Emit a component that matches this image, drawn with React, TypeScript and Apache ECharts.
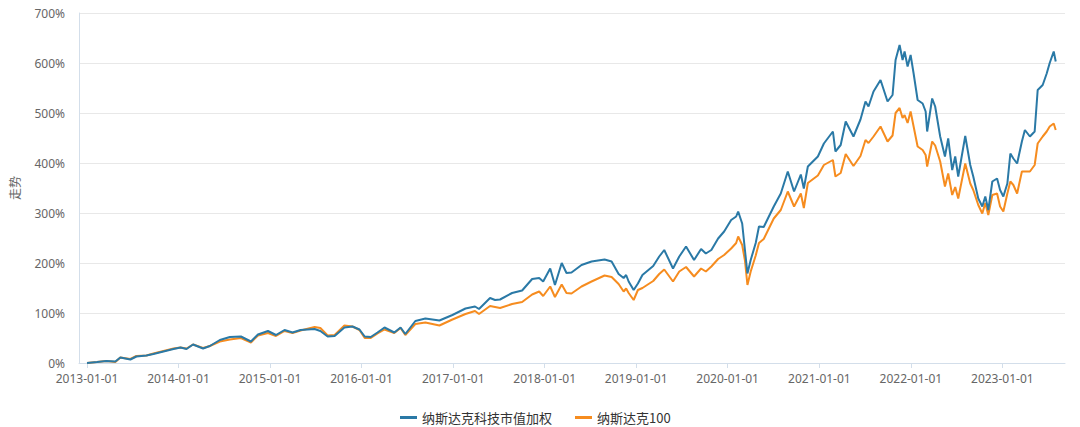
import React, { useEffect, useRef } from "react";
import * as echarts from "echarts";

const dates = [
  "2013-01-01","2013-02-10","2013-03-19","2013-04-24","2013-05-14","2013-06-23","2013-07-17","2013-08-26","2013-09-23","2013-11-02","2013-12-12",
  "2014-01-09","2014-02-02","2014-02-28","2014-04-09","2014-05-06","2014-06-15","2014-07-25","2014-09-07","2014-10-17","2014-11-14","2014-12-24",
  "2015-01-25","2015-02-28","2015-04-01","2015-05-03","2015-06-28","2015-07-21","2015-08-19","2015-09-16","2015-10-25","2015-11-26","2015-12-24",
  "2016-01-14","2016-02-07","2016-03-05","2016-04-02","2016-05-11","2016-06-05","2016-06-24","2016-08-03","2016-09-12","2016-11-07","2016-12-29",
  "2017-02-19","2017-03-29","2017-04-14","2017-05-28","2017-06-17","2017-07-07","2017-08-24","2017-10-03","2017-11-12","2017-12-10","2017-12-26",
  "2018-01-23","2018-02-11","2018-03-10","2018-03-29","2018-04-18","2018-05-28","2018-07-07","2018-08-28","2018-09-25","2018-10-23","2018-11-12","2018-11-22","2018-12-02","2018-12-22",
  "2019-01-08","2019-01-26","2019-03-10","2019-04-03","2019-04-23","2019-05-28","2019-06-22","2019-07-19","2019-08-20","2019-09-17","2019-10-06","2019-10-28","2019-11-24","2019-12-18",
  "2020-01-15","2020-02-04","2020-02-12","2020-02-28","2020-03-10","2020-03-20","2020-04-02","2020-04-22","2020-05-05","2020-05-24","2020-07-03","2020-07-31","2020-08-28","2020-09-22","2020-10-19","2020-10-31","2020-11-16","2020-12-26",
  "2021-01-19","2021-02-24","2021-03-06","2021-03-27","2021-04-16","2021-05-17","2021-06-14","2021-07-04","2021-07-16","2021-08-05","2021-09-02","2021-09-30","2021-10-20","2021-11-01","2021-11-17","2021-11-29","2021-12-07","2021-12-19","2021-12-31",
  "2022-01-12","2022-01-28","2022-02-17","2022-03-01","2022-03-07","2022-03-27","2022-04-08","2022-04-28","2022-05-17","2022-05-30","2022-06-15","2022-06-27","2022-07-09","2022-08-06","2022-08-26","2022-09-07","2022-09-27","2022-10-13","2022-10-25","2022-11-06","2022-11-22","2022-12-11","2022-12-23",
  "2023-01-05","2023-01-21","2023-02-02","2023-02-14","2023-03-01","2023-03-20","2023-04-01","2023-04-21","2023-05-10","2023-05-22","2023-06-11","2023-06-27","2023-07-09","2023-07-25","2023-08-02"
];

const techValues = [
  0,2,4,3,11,7,13,15,18,23,28,
  31,28,37,29,34,46,52,53,43,57,64,
  56,66,61,66,68,64,53,54,71,73,67,
  53,52,61,71,61,71,58,84,89,85,96,
  109,113,108,130,126,127,140,145,168,170,163,
  189,156,200,180,181,196,203,207,203,178,170,176,163,146,
  159,176,194,213,226,189,213,233,206,228,219,226,249,263,
  286,293,303,279,226,179,206,240,273,272,313,339,383,343,377,349,393,413,
  439,463,423,436,483,453,487,523,513,543,566,523,536,606,636,606,623,593,616,
  579,526,519,503,463,529,513,453,413,449,386,413,373,454,396,373,329,313,333,306,363,369,346,
  333,359,419,409,399,443,466,453,463,546,556,579,600,623,603
];

const ndxValues = [
  0,2,4,2,11,8,14,15,19,24,29,
  31,29,37,30,34,43,47,50,41,55,60,
  54,64,60,65,72,70,55,56,75,73,66,
  50,50,59,67,60,70,56,78,81,75,87,
  98,104,98,114,112,110,118,122,137,143,134,
  153,132,157,140,139,153,163,175,172,158,143,149,140,126,
  146,150,164,178,187,163,183,192,173,189,183,193,208,216,
  229,240,253,236,205,156,183,215,240,248,289,306,343,313,339,310,360,375,
  396,406,373,380,418,394,414,446,440,453,473,443,455,500,510,490,496,480,503,
  473,433,426,416,393,443,435,403,353,379,336,352,329,399,359,346,316,299,320,296,336,339,313,
  303,339,363,356,339,383,383,383,396,439,453,463,473,479,466
];

const seriesNames = ["纳斯达克科技市值加权", "纳斯达克100"];
const seriesColors = ["#2a79a6", "#f68c1f"];
const axisMinDate = "2012-11-30";
const axisMaxDate = "2023-09-08";

const YEAR = 365.25 * 24 * 3600 * 1000;

function fmtDate(v: number) {
  const d = new Date(v);
  const y = d.getFullYear();
  const m = String(d.getMonth() + 1).padStart(2, "0");
  const dd = String(d.getDate()).padStart(2, "0");
  return `${y}-${m}-${dd}`;
}

export default function App() {
  const ref = useRef<HTMLDivElement>(null);
  useEffect(() => {
    document.body.style.margin = "0";
    const chart = echarts.init(ref.current!, undefined, { renderer: "svg" });
    const techData = dates.map((d, i) => [d, techValues[i]]);
    const ndxData = dates.map((d, i) => [d, ndxValues[i]]);
    chart.setOption({
      animation: false,
      grid: { left: 75, right: 15, top: 13, bottom: 64 },
      legend: {
        left: 395,
        top: 406,
        icon: "rect",
        itemWidth: 17,
        itemHeight: 3,
        itemGap: 23,
        textStyle: { color: "#333", fontSize: 13, fontFamily: "Noto Sans CJK SC" },
        data: seriesNames,
      },
      xAxis: {
        type: "time",
        min: new Date(axisMinDate).getTime(),
        max: new Date(axisMaxDate).getTime(),
        splitNumber: 11,
        minInterval: YEAR,
        maxInterval: YEAR,
        axisLine: { lineStyle: { color: "#d3deea" } },
        axisTick: { show: true, length: 5, lineStyle: { color: "#d3deea" } },
        axisLabel: {
          color: "#666",
          fontSize: 12,
          margin: 9,
          fontFamily: "Noto Sans",
          showMinLabel: false,
          showMaxLabel: false,
          formatter: (v: number) => fmtDate(v),
        },
        splitLine: { show: false },
      },
      yAxis: {
        type: "value",
        min: 0,
        max: 700,
        interval: 100,
        name: "走势",
        nameLocation: "middle",
        nameGap: 59,
        nameTextStyle: { color: "#666", fontSize: 12, fontFamily: "Noto Sans CJK SC" },
        axisLine: { show: true, lineStyle: { color: "#d3deea" } },
        axisTick: { show: false },
        axisLabel: { color: "#666", fontSize: 12, margin: 14, fontFamily: "Noto Sans", formatter: "{value}%" },
        splitLine: { lineStyle: { color: "#e8e8e8" } },
      },
      series: [
        {
          name: seriesNames[1],
          type: "line",
          data: ndxData,
          showSymbol: false,
          lineStyle: { width: 2, color: seriesColors[1] },
          itemStyle: { color: seriesColors[1] },
          z: 2,
        },
        {
          name: seriesNames[0],
          type: "line",
          data: techData,
          showSymbol: false,
          lineStyle: { width: 2, color: seriesColors[0] },
          itemStyle: { color: seriesColors[0] },
          z: 3,
        },
      ],
    });
    return () => chart.dispose();
  }, []);
  return <div ref={ref} style={{ width: 1080, height: 427 }} />;
}
